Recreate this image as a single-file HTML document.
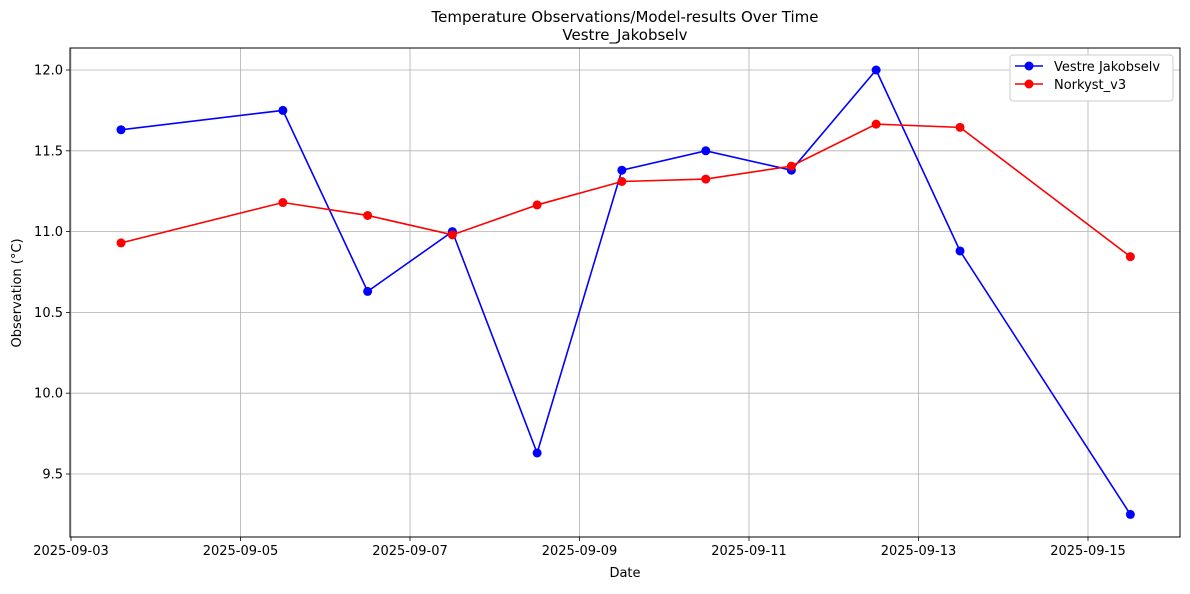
<!DOCTYPE html>
<html><head><meta charset="utf-8"><style>
body{margin:0;background:#fff;font-family:"DejaVu Sans","Liberation Sans",sans-serif}
svg text{font-family:"DejaVu Sans","Liberation Sans",sans-serif}
</style></head><body>
<svg id="c" width="1190" height="590" xmlns="http://www.w3.org/2000/svg"></svg>
<script>
const dayOffsets=[0.59,2.5,3.5,4.5,5.5,6.5,7.49,8.5,9.5,10.49,12.5];
const blueVals=[11.63,11.75,10.63,11.0,9.63,11.38,11.5,11.38,12.0,10.88,9.25];
const redVals=[10.93,11.18,11.10,10.98,11.165,11.31,11.325,11.405,11.665,11.645,10.845];
const xTickDays=[0,2,4,6,8,10,12];
const xTickLabels=["2025-09-03","2025-09-05","2025-09-07","2025-09-09","2025-09-11","2025-09-13","2025-09-15"];
const yTicks=[9.5,10.0,10.5,11.0,11.5,12.0];
const L=70,R=1180,T=48,B=537;
const xs=d=>71+d*84.75;
const ys=v=>70+(12-v)*161.6;
const svg=document.getElementById('c');
const NS='http://www.w3.org/2000/svg';
function el(t,a,txt){const e=document.createElementNS(NS,t);for(const k in a)e.setAttribute(k,a[k]);if(txt!=null)e.textContent=txt;svg.appendChild(e);return e;}
xTickDays.forEach((d,i)=>{const x=xs(d);
const g=el('line',{x1:x,x2:x,y1:T,y2:B,stroke:'#b0b0b0','stroke-width':0.8});

el('line',{x1:x,x2:x,y1:B,y2:B+4,stroke:'#000','stroke-width':0.8});
const t=el('text',{x:x,y:B+18,'text-anchor':'middle','font-size':13},xTickLabels[i]);
});
yTicks.forEach(v=>{const y=ys(v);
const g=el('line',{x1:L,x2:R,y1:y,y2:y,stroke:'#b0b0b0','stroke-width':0.8});

el('line',{x1:L-4,x2:L,y1:y,y2:y,stroke:'#000','stroke-width':0.8});
const t=el('text',{x:L-7,y:y+4.5,'text-anchor':'end','font-size':13},v.toFixed(1));
});
const fr=el('rect',{x:L,y:T,width:R-L,height:B-T,fill:'none',stroke:'#000','stroke-width':1});

function series(vals,color,name){
const p=el('polyline',{points:vals.map((v,i)=>xs(dayOffsets[i])+','+ys(v)).join(' '),fill:'none',stroke:color,'stroke-width':1.6});

vals.forEach((v,i)=>{const c=el('circle',{cx:xs(dayOffsets[i]),cy:ys(v),r:4.5,fill:color});
});}
series(blueVals,'#0000ff','vestre-jakobselv');
series(redVals,'#ff0000','norkyst-v3');
let t;
t=el('text',{x:625,y:22,'text-anchor':'middle','font-size':15},'Temperature Observations/Model-results Over Time');
t=el('text',{x:625,y:40,'text-anchor':'middle','font-size':15},'Vestre_Jakobselv');
t=el('text',{x:625,y:577,'text-anchor':'middle','font-size':13},'Date');
t=el('text',{x:21,y:293,'text-anchor':'middle','font-size':13,transform:'rotate(-90 21 293)'},'Observation (°C)');
const lg=el('rect',{x:1010,y:55,width:163,height:46,rx:3,fill:'#fff',stroke:'#ccc','stroke-width':1});

[['Vestre Jakobselv','#0000ff',70],['Norkyst_v3','#ff0000',88]].forEach(([n,c,y])=>{
el('line',{x1:1015,x2:1043,y1:y-4,y2:y-4,stroke:c,'stroke-width':1.6});
el('circle',{cx:1029,cy:y-4,r:4.5,fill:c});
const tt=el('text',{x:1054,y:y+1,'font-size':13},n);});
</script>
</body></html>
